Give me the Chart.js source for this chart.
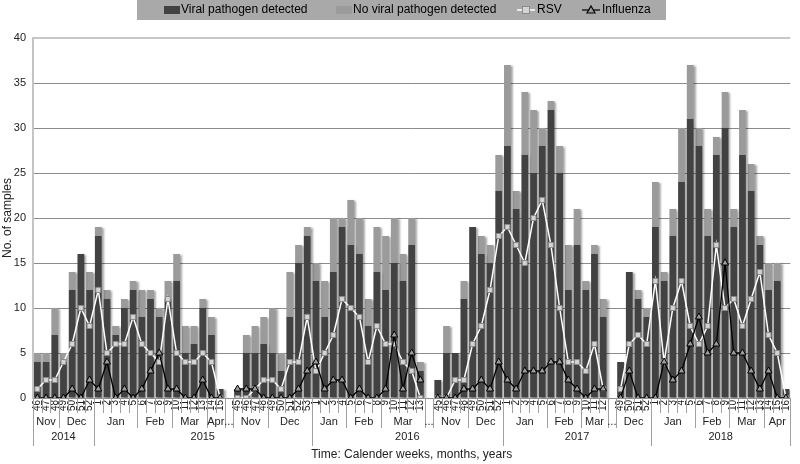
<!DOCTYPE html>
<html>
<head>
<meta charset="utf-8">
<script src="https://cdn.jsdelivr.net/npm/chart.js@4.4.0/dist/chart.umd.min.js"></script>
<style>
body{margin:0;background:#fff;}
</style>
</head>
<body>
<canvas id="chart" width="800" height="464"></canvas>
<script>
// calendar weeks, '' = gap between seasons
var weeks = ['46','47','48','49','50','51','52','1','2','3','4','5','6','7','8','9','10','11','12','13','14','15','',
  '45','46','47','48','49','50','51','52','53','1','2','3','4','5','6','7','8','9','10','11','12','13','',
  '45','46','47','48','49','50','51','52','1','2','3','4','5','6','7','8','9','10','11','12','',
  '49','50','51','52','1','2','3','4','5','6','7','8','9','10','11','12','13','14','15','16'];

var viral = [4,4,7,4,12,16,12,18,11,7,10,12,9,11,9,11,13,5,6,10,7,1, null,
  1,5,5,6,5,3,9,15,18,13,9,14,19,17,16,8,14,12,15,13,17,3, null,
  2,5,5,11,19,16,15,23,28,21,27,25,28,32,25,12,17,12,16,9, null,
  4,14,11,9,19,13,18,24,31,28,18,27,30,19,27,23,17,12,13,1];

var noViral = [1,1,3,1,2,0,2,1,1,1,1,1,3,1,1,2,3,3,2,1,2,0, null,
  0,2,3,3,5,2,5,2,1,2,4,6,1,5,4,3,5,6,5,3,3,1, null,
  0,3,0,2,0,2,2,4,9,2,7,7,2,1,3,5,4,1,1,2, null,
  0,0,1,1,5,1,3,6,6,2,3,2,4,2,5,3,1,3,2,0];

var rsv = [1,2,2,4,6,10,8,12,5,6,6,9,6,5,4,11,5,4,4,5,4,0, null,
  0,0,1,2,2,1,4,4,9,3,5,7,11,10,9,4,8,6,6,4,3,0, null,
  0,0,2,2,6,8,12,18,19,17,15,20,22,17,10,4,4,3,6,1, null,
  1,6,7,6,13,4,10,13,8,6,8,17,10,11,8,11,14,7,5,0];

var flu = [0,0,0,0,1,0,2,1,4,0,1,0,1,3,5,1,1,0,0,2,0,0, null,
  1,1,1,0,0,0,0,1,3,4,1,2,2,0,1,0,0,1,7,1,5,2, null,
  0,0,0,1,1,2,1,4,2,1,3,3,3,4,4,2,1,0,1,1, null,
  0,3,0,0,0,4,2,3,6,9,5,6,15,5,5,3,1,3,0,0];

var monthNames = ['Nov','Dec','Jan','Feb','Mar','Apr','...','Nov','Dec','Jan','Feb','Mar','...',
  'Nov','Dec','Jan','Feb','Mar','...','Dec','Jan','Feb','Mar','Apr'];
var monthSpans = [3,4,5,4,4,2,1,4,5,4,4,5,1,4,4,5,4,3,1,4,5,4,4,3];

var yearNames = ['2014','2015','2016','2017','2018'];
var yearSpans = [7,25,22,17,16];

var FONT = "'Liberation Sans', Arial, sans-serif";

// shadow under the bars
var barShadow = {
  id: 'barShadow',
  beforeDatasetDraw: function(chart, args) {
    if (args.meta.type !== 'bar') return;
    var ctx = chart.ctx;
    ctx.save();
    ctx.shadowColor = 'rgba(0,0,0,0.35)';
    ctx.shadowBlur = 2;
    ctx.shadowOffsetX = 2;
    ctx.shadowOffsetY = 1;
  },
  afterDatasetDraw: function(chart, args) {
    if (args.meta.type !== 'bar') return;
    chart.ctx.restore();
  }
};

// months / years rows under the week labels
var axisGroups = {
  id: 'axisGroups',
  afterDraw: function(chart) {
    var ctx = chart.ctx;
    var x = chart.scales.x;
    var n = weeks.length;
    var w = x.width / n;
    var base = chart.chartArea.bottom;
    function edge(i) { return x.left + w * i; }
    function vline(xx, y2) {
      ctx.beginPath();
      ctx.moveTo(Math.round(xx) + 0.5, base);
      ctx.lineTo(Math.round(xx) + 0.5, y2);
      ctx.stroke();
    }
    ctx.save();
    ctx.strokeStyle = '#a0a0a0';
    ctx.lineWidth = 1;
    for (var i = 0; i <= n; i++) vline(edge(i), base + 15);

    ctx.fillStyle = '#222';
    ctx.font = '11px ' + FONT;
    ctx.textAlign = 'center';
    ctx.textBaseline = 'middle';
    var pos = 0;
    vline(edge(0), base + 30);
    for (var m = 0; m < monthNames.length; m++) {
      var s = edge(pos), e = edge(pos + monthSpans[m]);
      ctx.fillText(monthNames[m], (s + e) / 2, base + 24);
      vline(e, base + 30);
      pos += monthSpans[m];
    }
    pos = 0;
    vline(edge(0), base + 48);
    for (var y = 0; y < yearNames.length; y++) {
      var s2 = edge(pos), e2 = edge(pos + yearSpans[y]);
      ctx.fillText(yearNames[y], (s2 + e2) / 2, base + 39);
      vline(e2, base + 48);
      pos += yearSpans[y];
    }
    ctx.restore();
  }
};

// legend box on top
var topLegend = {
  id: 'topLegend',
  afterDraw: function(chart) {
    var ctx = chart.ctx;
    var ds = chart.data.datasets;
    ctx.save();
    ctx.fillStyle = '#a9a9a9';
    ctx.fillRect(137, 0, 529, 20);
    ctx.font = '12px ' + FONT;
    ctx.textBaseline = 'middle';
    ctx.textAlign = 'left';
    var cy = 10;
    ctx.fillStyle = ds[2].backgroundColor;
    ctx.fillRect(164, 6, 16, 8);
    ctx.fillStyle = '#000';
    ctx.fillText(ds[2].label, 181, cy);
    ctx.fillStyle = ds[3].backgroundColor;
    ctx.fillRect(336, 6, 16, 8);
    ctx.fillStyle = '#000';
    ctx.fillText(ds[3].label, 353, cy);
    // RSV
    ctx.strokeStyle = ds[1].borderColor;
    ctx.lineWidth = 1.5;
    ctx.beginPath(); ctx.moveTo(517, cy); ctx.lineTo(535, cy); ctx.stroke();
    ctx.fillStyle = ds[1].pointBackgroundColor;
    ctx.strokeStyle = ds[1].pointBorderColor;
    ctx.lineWidth = 1;
    ctx.fillRect(523, cy - 3, 6, 6);
    ctx.strokeRect(522.5, cy - 3.5, 7, 7);
    ctx.fillStyle = '#000';
    ctx.fillText(ds[1].label, 537, cy);
    // Influenza
    ctx.strokeStyle = ds[0].borderColor;
    ctx.lineWidth = 1.2;
    ctx.beginPath(); ctx.moveTo(582, cy); ctx.lineTo(600, cy); ctx.stroke();
    ctx.fillStyle = ds[0].pointBackgroundColor;
    ctx.beginPath();
    ctx.moveTo(591, cy - 4); ctx.lineTo(595, cy + 3); ctx.lineTo(587, cy + 3); ctx.closePath();
    ctx.fill(); ctx.stroke();
    ctx.fillStyle = '#000';
    ctx.fillText(ds[0].label, 602, cy);
    ctx.restore();
  }
};

var ctx = document.getElementById('chart').getContext('2d');
var myChart = new Chart(ctx, {
  type: 'bar',
  data: {
    labels: weeks,
    datasets: [{
      type: 'line',
      label: 'Influenza',
      data: flu,
      stack: 'flu',
      order: 0,
      borderColor: '#000',
      borderWidth: 1.3,
      pointStyle: 'triangle',
      pointRadius: 4,
      pointBackgroundColor: '#9c9c9c',
      pointBorderColor: '#000',
      pointBorderWidth: 1,
      tension: 0
    }, {
      type: 'line',
      label: 'RSV',
      data: rsv,
      stack: 'rsv',
      order: 1,
      borderColor: '#fff',
      borderWidth: 1.5,
      pointStyle: 'rect',
      pointRadius: 3.5,
      pointBackgroundColor: '#d4d4d4',
      pointBorderColor: '#8a8a8a',
      pointBorderWidth: 1,
      tension: 0
    }, {
      label: 'Viral pathogen detected',
      data: viral,
      stack: 'samples',
      order: 2,
      backgroundColor: '#424242',
      barPercentage: 0.78,
      categoryPercentage: 1
    }, {
      label: 'No viral pathogen detected',
      data: noViral,
      stack: 'samples',
      order: 2,
      backgroundColor: '#9b9b9b',
      barPercentage: 0.78,
      categoryPercentage: 1
    }]
  },
  options: {
    responsive: false,
    animation: false,
    layout: { padding: { top: 38, right: 3, left: 0, bottom: 0 } },
    plugins: {
      legend: { display: false },
      tooltip: { enabled: false }
    },
    scales: {
      x: {
        stacked: true,
        grid: { display: false, drawTicks: false },
        border: { display: false },
        ticks: {
          autoSkip: false,
          minRotation: 90,
          maxRotation: 90,
          padding: 2,
          color: '#222',
          font: { family: FONT, size: 10 }
        },
        title: {
          display: true,
          text: 'Time: Calender weeks, months, years',
          color: '#222',
          padding: { top: 0, bottom: 2 },
          font: { family: FONT, size: 12 }
        },
        afterFit: function(scale) { scale.height = 66; }
      },
      y: {
        stacked: true,
        min: 0,
        max: 40,
        ticks: {
          stepSize: 5,
          padding: 7,
          color: '#222',
          font: { family: FONT, size: 11 }
        },
        grid: {
          drawTicks: false,
          color: function(c) { return c.tick && c.tick.value === 40 ? '#c8c8c8' : '#8c8c8c'; },
          lineWidth: function(c) { return c.tick && c.tick.value === 40 ? 2 : 1; }
        },
        border: { color: '#c4c4c4', width: 2 },
        title: {
          display: true,
          text: 'No. of samples',
          color: '#222',
          padding: { top: 0, bottom: 0 },
          font: { family: FONT, size: 12 }
        },
        afterFit: function(scale) { scale.width = 33; }
      }
    }
  },
  plugins: [barShadow, axisGroups, topLegend]
});
</script>
</body>
</html>
